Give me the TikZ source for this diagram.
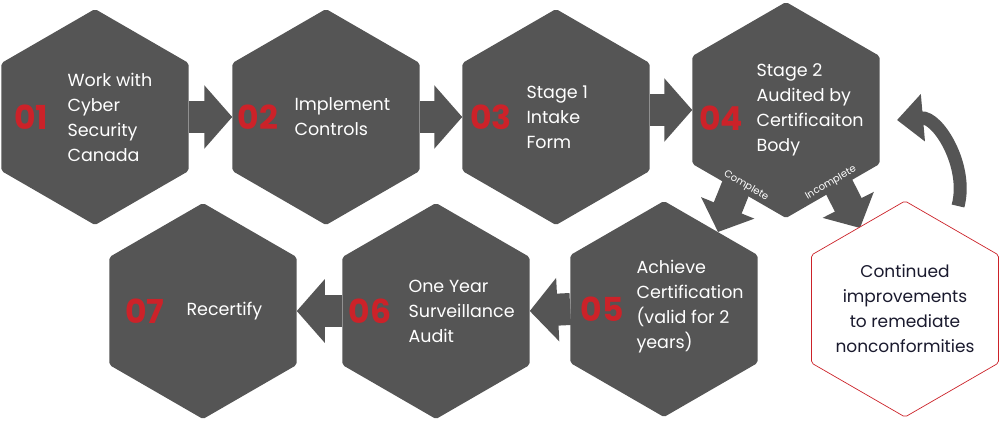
\documentclass[tikz,border=0pt]{standalone}
\usepackage{fontspec}
\setmainfont{Poppins}
\usetikzlibrary{shapes.geometric,arrows.meta,positioning}
\definecolor{hexgray}{HTML}{555555}
\definecolor{hexred}{HTML}{CC2229}
\definecolor{navy}{HTML}{1A1A2E}
\tikzset{
  hexbox/.style={regular polygon, regular polygon sides=6, shape border rotate=30,
    minimum size=216pt, inner sep=0pt, fill=hexgray, rounded corners=2pt},
  redhex/.style={hexbox, fill=white, draw=hexred, line width=0.7pt},
  numlabel/.style={text=hexred, font=\fontsize{33}{33}\selectfont\bfseries},
  steplabel/.style={text=white, anchor=west, align=left,
    font=\fontsize{17.5}{25}\selectfont},
  flowarrow/.style={hexgray, line width=32pt, -{Triangle[length=28pt, width=62pt]}},
  tagtext/.style={text=white, inner sep=0pt, font=\fontsize{10}{10}\selectfont}
}
\begin{document}
\begin{tikzpicture}[x=1pt, y=-1pt]
  \useasboundingbox (0,0) rectangle (1000,424);

  % arrows behind the hexagons
  \coordinate (c4) at (745,165);
  \coordinate (i4) at (828,165);
  \coordinate (ct) at (718,232);
  \coordinate (it) at (860,228);
  \draw[flowarrow, line width=30pt, -{Triangle[length=26pt, width=56pt]}] (c4) -- (ct);
  \draw[flowarrow, line width=30pt, -{Triangle[length=26pt, width=56pt]}] (i4) -- (it);

  % top row
  \node[hexbox] (h1) at (95,117) {};
  \node[hexbox] (h2) at (326,117) {};
  \node[hexbox] (h3) at (556,117) {};
  \node[hexbox] (h4) at (786,110) {};

  % bottom row
  \node[hexbox] (h7) at (203,311) {};
  \node[hexbox] (h6) at (436,311) {};
  \node[hexbox] (h5) at (664,309) {};
  \node[redhex] (hr) at (905,309) {};

  % connectors
  \draw[flowarrow] (h1.east) -- (h2.west);
  \draw[flowarrow] (h2.east) -- (h3.west);
  \draw[flowarrow] ([yshift=7pt]h3.east) -- ([yshift=0pt]h4.west);
  \draw[flowarrow] (h5.west) -- (h6.east);
  \draw[flowarrow] (h6.west) -- (h7.east);

  % curved return arrow
  \coordinate (rs) at (958,206);
  \coordinate (re) at (897,120);
  \draw[hexgray, line width=13pt, -{Triangle[length=26pt, width=46pt]}]
       (rs) to[out=75, in=5] (re);

  % numbers and texts
  \node[numlabel] at ([xshift=-64pt]h1.center) {01};
  \node[steplabel] at ([xshift=-31pt]h1.center) {Work with\\Cyber\\Security\\Canada};
  \node[numlabel] at ([xshift=-68pt]h2.center) {02};
  \node[steplabel] at ([xshift=-35pt]h2.center) {Implement\\Controls};
  \node[numlabel] at ([xshift=-65pt]h3.center) {03};
  \node[steplabel] at ([xshift=-33pt]h3.center) {Stage 1\\Intake\\Form};
  \node[numlabel] at ([xshift=-65pt,yshift=-8pt]h4.center) {04};
  \node[steplabel] at ([xshift=-33pt]h4.center) {Stage 2\\Audited by\\Certificaiton\\Body};
  \node[numlabel] at ([xshift=-62pt]h5.center) {05};
  \node[steplabel] at ([xshift=-31pt,yshift=2pt]h5.center) {Achieve\\Certification\\(valid for 2\\years)};
  \node[numlabel] at ([xshift=-66pt]h6.center) {06};
  \node[steplabel] at ([xshift=-31pt]h6.center) {One Year\\Surveillance\\Audit};
  \node[numlabel] at ([xshift=-58pt]h7.center) {07};
  \node[steplabel] at ([xshift=-20pt]h7.center) {Recertify};
  \node[text=navy, align=center, font=\fontsize{17}{25}\selectfont] at (hr.center)
       {Continued\\improvements\\to remediate\\nonconformities};

  % branch tags
  \node[tagtext, rotate=-30] at (746,186) {Complete};
  \node[tagtext, rotate=30] at (831,183) {Incomplete};
\end{tikzpicture}
\end{document}
